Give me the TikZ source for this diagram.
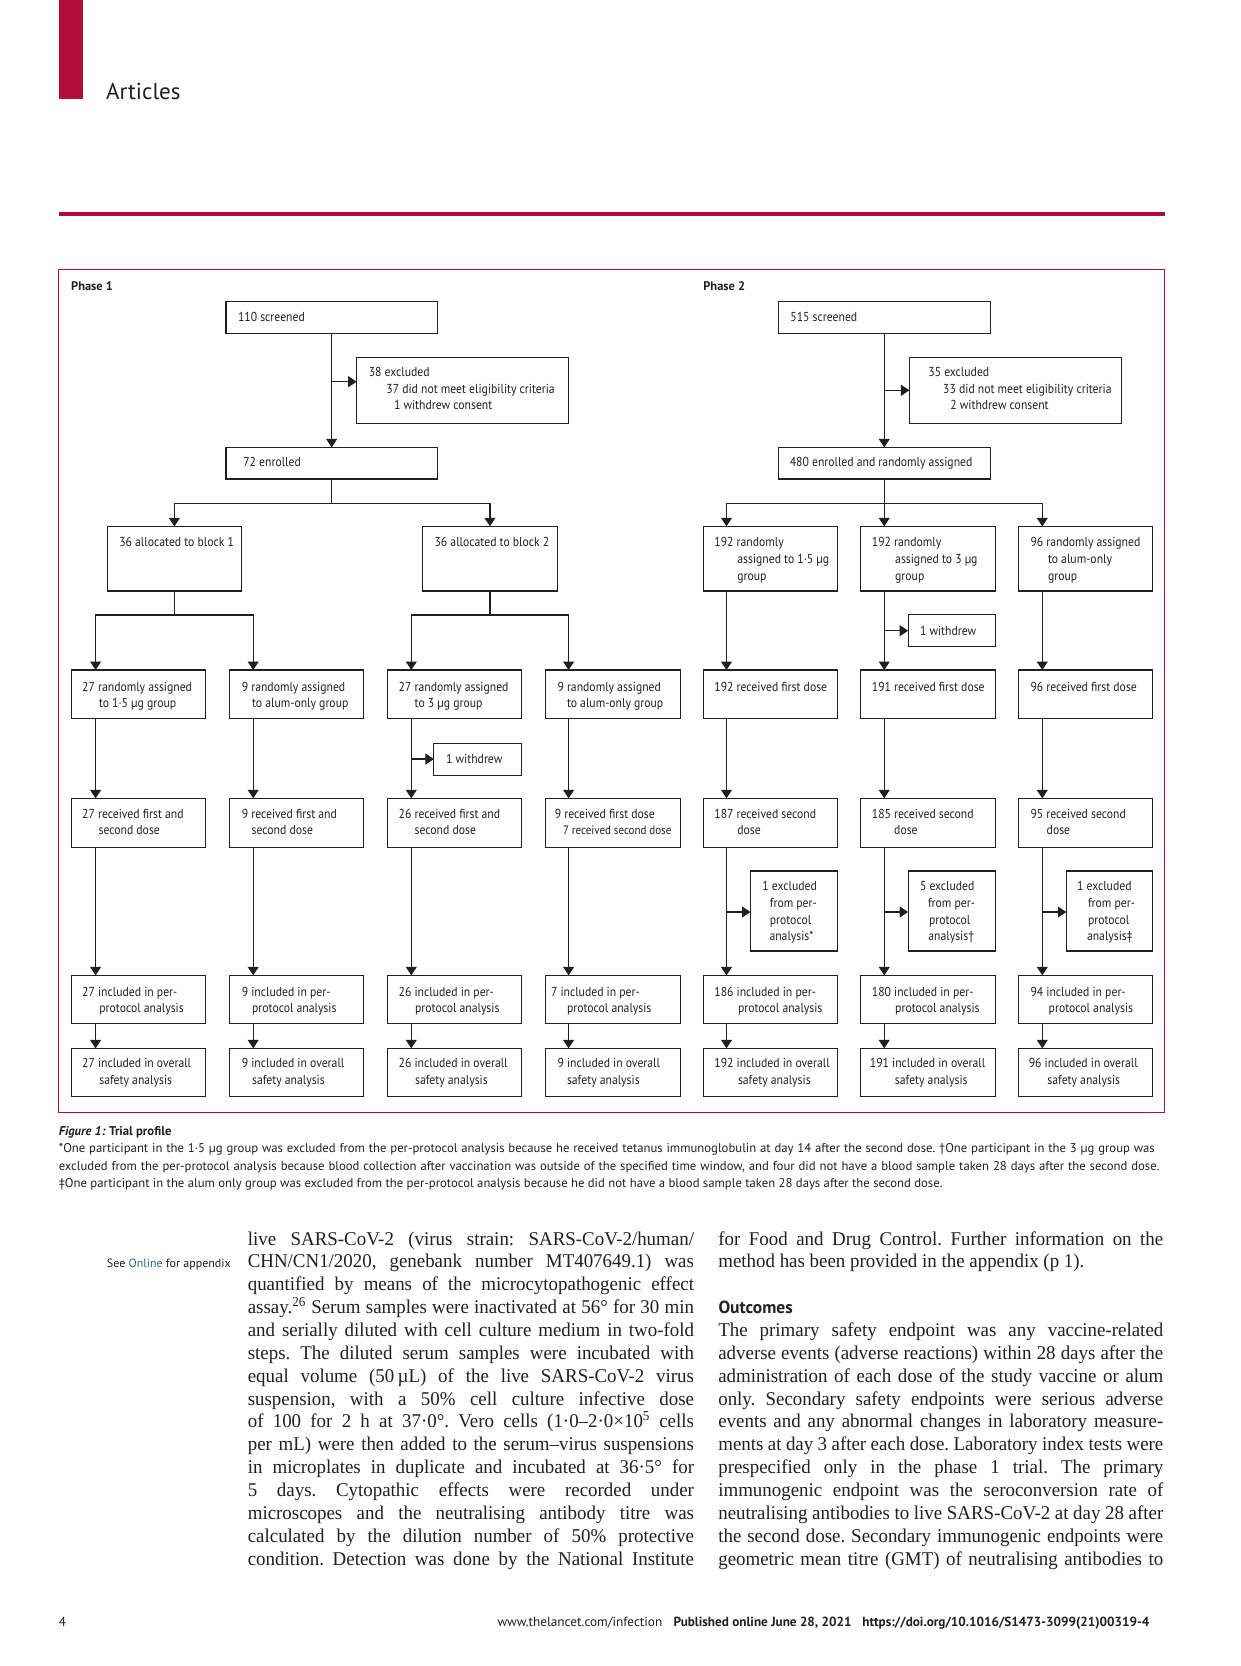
\documentclass[tikz,border=0pt]{standalone}
\usepackage{fontspec}
\usetikzlibrary{arrows.meta}
\newfontfamily\chf{PT Sans}[FakeStretch=0.9]
\newfontfamily\hdf{PT Sans}
\newfontfamily\bdf{Liberation Serif}[FakeStretch=0.97]
\definecolor{lred}{RGB}{178,12,58}
\definecolor{lteal}{RGB}{38,104,138}
\definecolor{ink}{RGB}{35,31,32}
\newcommand\bx[5]{\node[boxst, minimum width={(#4)-(#2)}, minimum height={(#5)-(#3)}] (#1) at ({((#2)+(#4))/2},{((#3)+(#5))/2}) {};}
\newcommand\tl[4]{\node[lbl] (#1) at (#2,{(#3)+4.5}) {#4};}
\newcommand\jl[5]{\node[bodyln] (#1) at (#2,#3) {\makebox[#4pt][s]{#5}};}
\newcommand\nl[4]{\node[bodyln] (#1) at (#2,#3) {#4};}
\begin{document}
\frenchspacing
\begin{tikzpicture}[x=1pt,y=-1pt,
  boxst/.style={draw=ink, line width=1.1pt, inner sep=0pt, outer sep=0pt, rectangle},
  lbl/.style={anchor=base west, inner sep=0pt, outer sep=0pt, text=ink, font=\chf\fontsize{13}{15}\selectfont},
  ln/.style={draw=ink, line width=1.1pt},
  arr/.style={ln, -{Triangle[width=11pt,length=8.5pt]}},
  bodyln/.style={anchor=base west, inner sep=0pt, outer sep=0pt, text=ink, font=\bdf\fontsize{19.5}{22.86}\selectfont},
  captxt/.style={anchor=base west, inner sep=0pt, outer sep=0pt, text=ink, font=\hdf\fontsize{12.7}{14}\selectfont},
  foot/.style={anchor=base west, inner sep=0pt, outer sep=0pt, text=ink, font=\hdf\fontsize{13.2}{15}\selectfont}]
\useasboundingbox (0,0) rectangle (1241,1666);
\fill[white] (0,0) rectangle (1241,1666);
% header
\fill[lred] (59,0) rectangle (82.7,98.7);
\node[anchor=base west, inner sep=0pt, text=ink, font=\hdf\fontsize{23}{26}\selectfont] (art) at (106,99) {Articles};
\fill[lred] (59,212) rectangle (1164.5,215.7);
% frame
\draw[lred, line width=1pt] (58.8,269.3) rectangle (1164,1112.3);
\node[anchor=base west, inner sep=0pt, text=ink, font=\hdf\bfseries\fontsize{12.4}{14}\selectfont] (ph1) at (71,290) {Phase 1};
\node[anchor=base west, inner sep=0pt, text=ink, font=\hdf\bfseries\fontsize{12.4}{14}\selectfont] (ph2) at (703.2,290) {Phase 2};

% ---------- Phase 1 boxes ----------
\bx{scra}{226}{301.7}{437.3}{333.3}
\tl{scrat}{238}{317.3}{110 screened}
\bx{exca}{356.6}{357.3}{568.2}{423.3}
\tl{excat1}{368.8}{372.3}{38 excluded}
\tl{excat2}{386.4}{389.3}{37 did not meet eligibility criteria}
\tl{excat3}{394}{405}{1 withdrew consent}
\bx{enra}{226}{447.3}{437.3}{479}
\tl{enrat}{243.3}{462.3}{72 enrolled}
\bx{blka}{107.4}{526.3}{241.4}{591}
\tl{blkat}{119.3}{542.3}{36 allocated to block 1}
\bx{blkb}{422.4}{526.3}{557.5}{591}
\tl{blkbt}{434.6}{542.3}{36 allocated to block 2}

\bx{ra2}{71.1}{670}{205.8}{718.3}
\bx{rb2}{229.5}{670}{363.5}{718.3}
\bx{rc2}{387.6}{670}{521.5}{718.3}
\bx{rd2}{545.6}{670}{680.3}{718.3}
\tl{ra2t1}{82.2}{686.7}{27 randomly assigned}
\tl{ra2t2}{99}{702.7}{to 1·5 µg group}
\tl{rb2t1}{241.8}{686.7}{9 randomly assigned}
\tl{rb2t2}{252.1}{702.7}{to alum-only group}
\tl{rc2t1}{398.7}{686.7}{27 randomly assigned}
\tl{rc2t2}{414.7}{702.7}{to 3 µg group}
\tl{rd2t1}{557.5}{686.7}{9 randomly assigned}
\tl{rd2t2}{567}{702.7}{to alum-only group}

\bx{wda}{433.9}{743.3}{521.5}{775.3}
\tl{wdat}{446.1}{759}{1 withdrew}

\bx{ra3}{71.1}{798.3}{205.8}{847.3}
\bx{rb3}{229.5}{798.3}{363.5}{847.3}
\bx{rc3}{387.6}{798.3}{521.5}{847.3}
\bx{rd3}{545.6}{798.3}{680.3}{847.3}
\tl{ra3t1}{82.2}{814.3}{27 received first and}
\tl{ra3t2}{98.6}{830.3}{second dose}
\tl{rb3t1}{241.8}{814.3}{9 received first and}
\tl{rb3t2}{251.7}{830.3}{second dose}
\tl{rc3t1}{398.7}{814.3}{26 received first and}
\tl{rc3t2}{414.7}{830.3}{second dose}
\tl{rd3t1}{554.8}{814.3}{9 received first dose}
\tl{rd3t2}{563}{830.3}{\fontsize{12.2}{14}\selectfont 7 received second dose}

\bx{ra4}{71.1}{975.3}{205.8}{1023.3}
\bx{rb4}{229.5}{975.3}{363.5}{1023.3}
\bx{rc4}{387.6}{975.3}{521.5}{1023.3}
\bx{rd4}{545.6}{975.3}{680.3}{1023.3}
\tl{ra4t1}{82.2}{992.3}{27 included in per-}
\tl{ra4t2}{99.4}{1007.7}{protocol analysis}
\tl{rb4t1}{241.8}{992.3}{9 included in per-}
\tl{rb4t2}{252.1}{1007.7}{protocol analysis}
\tl{rc4t1}{398.7}{992.3}{26 included in per-}
\tl{rc4t2}{415.1}{1007.7}{protocol analysis}
\tl{rd4t1}{551}{992.3}{7 included in per-}
\tl{rd4t2}{567}{1007.7}{protocol analysis}

\bx{ra5}{71.1}{1048.3}{205.8}{1096.7}
\bx{rb5}{229.5}{1048.3}{363.5}{1096.7}
\bx{rc5}{387.6}{1048.3}{521.5}{1096.7}
\bx{rd5}{545.6}{1048.3}{680.3}{1096.7}
\tl{ra5t1}{82.2}{1063.3}{27 included in overall}
\tl{ra5t2}{99.4}{1080}{safety analysis}
\tl{rb5t1}{241.8}{1063.3}{9 included in overall}
\tl{rb5t2}{252.1}{1080}{safety analysis}
\tl{rc5t1}{398.7}{1063.3}{26 included in overall}
\tl{rc5t2}{415.1}{1080}{safety analysis}
\tl{rd5t1}{557.5}{1063.3}{9 included in overall}
\tl{rd5t2}{567}{1080}{safety analysis}

% ---------- Phase 1 connectors ----------
\coordinate (ca) at (95.6,0);
\coordinate (cb) at (253.2,0);
\coordinate (cc) at (411.3,0);
\coordinate (cd) at (568.6,0);
\coordinate (ea) at (331.65,381.7);
\coordinate (ja) at (331.65,503.3);
\coordinate (jb) at (174.4,615);
\coordinate (jc) at (489.95,615);
\coordinate (wa) at (411.3,759);
\draw[arr] (scra.south) -- (enra.north);
\draw[arr] (ea) -- (ea -| exca.west);
\draw[arr] (enra.south) -- (ja) -| (blka.north);
\draw[arr] (ja) -| (blkb.north);
\draw[ln] (blka.south) -- (jb);
\draw[ln] (blkb.south) -- (jc);
\draw[arr] (jb) -| (ca |- ra2.north);
\draw[arr] (jb) -| (cb |- rb2.north);
\draw[arr] (jc) -| (cc |- rc2.north);
\draw[arr] (jc) -| (cd |- rd2.north);
\foreach \c/\r in {ca/ra,cb/rb,cc/rc,cd/rd}{
  \draw[arr] (\c |- \r2.south) -- (\c |- \r3.north);
  \draw[arr] (\c |- \r3.south) -- (\c |- \r4.north);
  \draw[arr] (\c |- \r4.south) -- (\c |- \r5.north);
}
\draw[arr] (wa) -- (wa -| wda.west);

% ---------- Phase 2 boxes ----------
\bx{scrb}{778.3}{301.7}{990.2}{333.3}
\tl{scrbt}{790.4}{317.3}{515 screened}
\bx{excb}{909.4}{357.3}{1121.4}{423.3}
\tl{excbt1}{928.4}{372.3}{35 excluded}
\tl{excbt2}{943.2}{389.3}{33 did not meet eligibility criteria}
\tl{excbt3}{950.3}{405}{2 withdrew consent}
\bx{enrb}{778.3}{447.3}{990.2}{479}
\tl{enrbt}{789.8}{462.3}{480 enrolled and randomly assigned}

\bx{pa1}{703.2}{526.3}{837.8}{591}
\bx{pb1}{860.4}{526.3}{995.3}{591}
\bx{pc1}{1018.3}{526.3}{1152.5}{591}
\tl{pa1t1}{714.4}{542.3}{192 randomly}
\tl{pa1t2}{737.4}{559}{assigned to 1·5 µg}
\tl{pa1t3}{737.4}{576}{group}
\tl{pb1t1}{871.9}{542.3}{192 randomly}
\tl{pb1t2}{895.2}{559}{assigned to 3 µg}
\tl{pb1t3}{895.2}{576}{group}
\tl{pc1t1}{1030.5}{542.3}{96 randomly assigned}
\tl{pc1t2}{1048}{559}{to alum-only}
\tl{pc1t3}{1048}{576}{group}

\bx{wdb}{908.1}{614.3}{995.3}{646.3}
\tl{wdbt}{920}{630.7}{1 withdrew}

\bx{pa2}{703.2}{670}{837.8}{718.3}
\bx{pb2}{860.4}{670}{995.3}{718.3}
\bx{pc2}{1018.3}{670}{1152.5}{718.3}
\tl{pa2t}{714.4}{686.7}{192 received first dose}
\tl{pb2t}{871.9}{686.7}{191 received first dose}
\tl{pc2t}{1030.5}{686.7}{96 received first dose}

\bx{pa3}{703.2}{798.3}{837.8}{847.3}
\bx{pb3}{860.4}{798.3}{995.3}{847.3}
\bx{pc3}{1018.3}{798.3}{1152.5}{847.3}
\tl{pa3t1}{714.4}{814.3}{187 received second}
\tl{pa3t2}{737.4}{830.3}{dose}
\tl{pb3t1}{871.9}{814.3}{185 received second}
\tl{pb3t2}{894.2}{830.3}{dose}
\tl{pc3t1}{1030.5}{814.3}{95 received second}
\tl{pc3t2}{1046.7}{830.3}{dose}

\bx{exa}{750.5}{871}{837.8}{951}
\bx{exb}{908.1}{871}{995.3}{951}
\bx{exc}{1066.3}{871}{1152.5}{951}
\tl{exat1}{762.4}{886}{1 excluded}
\tl{exat2}{769.8}{903.3}{from per-}
\tl{exat3}{769.8}{920}{protocol}
\tl{exat4}{769.5}{936}{analysis*}
\tl{exbt1}{920}{886}{5 excluded}
\tl{exbt2}{928}{903.3}{from per-}
\tl{exbt3}{929}{920}{protocol}
\tl{exbt4}{928.4}{936}{analysis†}
\tl{exct1}{1077.1}{886}{1 excluded}
\tl{exct2}{1088}{903.3}{from per-}
\tl{exct3}{1088}{920}{protocol}
\tl{exct4}{1087}{936}{analysis‡}

\bx{pa4}{703.2}{975.3}{837.8}{1023.3}
\bx{pb4}{860.4}{975.3}{995.3}{1023.3}
\bx{pc4}{1018.3}{975.3}{1152.5}{1023.3}
\tl{pa4t1}{714.4}{992.3}{186 included in per-}
\tl{pa4t2}{738}{1007.7}{protocol analysis}
\tl{pb4t1}{871.9}{992.3}{180 included in per-}
\tl{pb4t2}{895.2}{1007.7}{protocol analysis}
\tl{pc4t1}{1030.5}{992.3}{94 included in per-}
\tl{pc4t2}{1048.7}{1007.7}{protocol analysis}

\bx{pa5}{703.2}{1048.3}{837.8}{1096.7}
\bx{pb5}{860.4}{1048.3}{995.3}{1096.7}
\bx{pc5}{1018.3}{1048.3}{1152.5}{1096.7}
\tl{pa5t1}{714.4}{1063.3}{192 included in overall}
\tl{pa5t2}{738}{1080}{safety analysis}
\tl{pb5t1}{869.9}{1063.3}{191 included in overall}
\tl{pb5t2}{894.9}{1080}{safety analysis}
\tl{pc5t1}{1028.8}{1063.3}{96 included in overall}
\tl{pc5t2}{1047.4}{1080}{safety analysis}

% ---------- Phase 2 connectors ----------
\coordinate (ka) at (726.5,0);
\coordinate (kb) at (884.25,0);
\coordinate (kc) at (1042.3,0);
\coordinate (eb) at (884.25,390.3);
\coordinate (jd) at (884.25,503.3);
\coordinate (wb) at (884.25,630.7);
\coordinate (xa) at (726.5,912);
\coordinate (xb) at (884.25,912);
\coordinate (xc) at (1042.3,912);
\draw[arr] (scrb.south) -- (enrb.north);
\draw[arr] (eb) -- (eb -| excb.west);
\draw[arr] (enrb.south) -- (jd) -| (ka |- pa1.north);
\draw[arr] (jd) -- (kb |- pb1.north);
\draw[arr] (jd) -| (kc |- pc1.north);
\foreach \c/\r in {ka/pa,kb/pb,kc/pc}{
  \draw[arr] (\c |- \r1.south) -- (\c |- \r2.north);
  \draw[arr] (\c |- \r2.south) -- (\c |- \r3.north);
  \draw[arr] (\c |- \r3.south) -- (\c |- \r4.north);
  \draw[arr] (\c |- \r4.south) -- (\c |- \r5.north);
}
\draw[arr] (wb) -- (wb -| wdb.west);
\draw[arr] (xa) -- (xa -| exa.west);
\draw[arr] (xb) -- (xb -| exb.west);
\draw[arr] (xc) -- (xc -| exc.west);

% ---------- caption ----------
\node[captxt] (capt) at (58.8,1135) {\textbf{\textit{Figure 1:}} \textbf{Trial profile}};
\node[captxt] (cap1) at (58.8,1152.5) {\makebox[1096pt][s]{*One participant in the 1·5 µg group was excluded from the per-protocol analysis because he received tetanus immunoglobulin at day 14 after the second dose. †One participant in the 3 µg group was}};
\node[captxt] (cap2) at (58.8,1170) {\makebox[1100.7pt][s]{excluded from the per-protocol analysis because blood collection after vaccination was outside of the specified time window, and four did not have a blood sample taken 28 days after the second dose.}};
\node[captxt] (cap3) at (58.8,1187.5) {‡One participant in the alum only group was excluded from the per-protocol analysis because he did not have a blood sample taken 28 days after the second dose.};

% ---------- body text ----------
\node[anchor=base east, inner sep=0pt, text=ink, font=\hdf\fontsize{12}{14}\selectfont] (side) at (231,1267.9) {See \textcolor{lteal}{Online} for appendix};
\jl{b1}{247.8}{1245}{446.2}{live SARS-CoV-2 (virus strain: SARS-CoV-2/human/}
\jl{b2}{247.8}{1245+22.857}{446.2}{CHN/CN1/2020, genebank number MT407649.1) was}
\jl{b3}{247.8}{1245+2*22.857}{446.2}{quantified by means of the microcytopathogenic effect}
\jl{b4}{247.8}{1245+3*22.857}{446.2}{assay.\textsuperscript{26} Serum samples were inactivated at 56° for 30 min}
\jl{b5}{247.8}{1245+4*22.857}{446.2}{and serially diluted with cell culture medium in two-fold}
\jl{b6}{247.8}{1245+5*22.857}{446.2}{steps. The diluted serum samples were incubated with}
\jl{b7}{247.8}{1245+6*22.857}{446.2}{equal volume (50\,µL) of the live SARS-CoV-2 virus}
\jl{b8}{247.8}{1245+7*22.857}{446.2}{suspension, with a 50\% cell culture infective dose}
\jl{b9}{247.8}{1245+8*22.857}{446.2}{of 100 for 2 h at 37·0°. Vero cells (1·0–2·0×10\textsuperscript{5} cells}
\jl{b10}{247.8}{1245+9*22.857}{446.2}{per mL) were then added to the serum–virus suspensions}
\jl{b11}{247.8}{1245+10*22.857}{446.2}{in microplates in duplicate and incubated at 36·5° for}
\jl{b12}{247.8}{1245+11*22.857}{446.2}{5 days. Cytopathic effects were recorded under}
\jl{b13}{247.8}{1245+12*22.857}{446.2}{microscopes and the neutralising antibody titre was}
\jl{b14}{247.8}{1245+13*22.857}{446.2}{calculated by the dilution number of 50\% protective}
\jl{b15}{247.8}{1245+14*22.857}{446.2}{condition. Detection was done by the National Institute}

\jl{c1}{718.3}{1245}{445}{for Food and Drug Control. Further information on the}
\nl{c2}{718.3}{1245+22.857}{method has been provided in the appendix (p 1).}
\node[anchor=base west, inner sep=0pt, text=ink, font=\hdf\bfseries\fontsize{17.5}{20}\selectfont] (outc) at (718.3,1245+3*22.857) {Outcomes};
\jl{c5}{718.3}{1245+4*22.857}{445}{The primary safety endpoint was any vaccine-related}
\jl{c6}{718.3}{1245+5*22.857}{445}{adverse events (adverse reactions) within 28 days after the}
\jl{c7}{718.3}{1245+6*22.857}{445}{administration of each dose of the study vaccine or alum}
\jl{c8}{718.3}{1245+7*22.857}{445}{only. Secondary safety endpoints were serious adverse}
\jl{c9}{718.3}{1245+8*22.857}{445}{events and any abnormal changes in laboratory measure-}
\jl{c10}{718.3}{1245+9*22.857}{445}{ments at day 3 after each dose. Laboratory index tests were}
\jl{c11}{718.3}{1245+10*22.857}{445}{prespecified only in the phase 1 trial. The primary}
\jl{c12}{718.3}{1245+11*22.857}{445}{immunogenic endpoint was the seroconversion rate of}
\jl{c13}{718.3}{1245+12*22.857}{445}{neutralising antibodies to live SARS-CoV-2 at day 28 after}
\jl{c14}{718.3}{1245+13*22.857}{445}{the second dose. Secondary immunogenic endpoints were}
\jl{c15}{718.3}{1245+14*22.857}{445}{geometric mean titre (GMT) of neutralising antibodies to}

% ---------- footer ----------
\node[foot] (pg) at (58.8,1626) {4};
\node[foot] (ft1) at (497.5,1626) {www.thelancet.com/infection};
\node[foot, font=\hdf\bfseries\fontsize{13.2}{15}\selectfont] (ft2) at (673.6,1626) {Published online June 28, 2021};
\node[foot, font=\hdf\bfseries\fontsize{13.2}{15}\selectfont] (ft3) at (862.4,1626) {https://doi.org/10.1016/S1473-3099(21)00319-4};
\end{tikzpicture}
\end{document}
